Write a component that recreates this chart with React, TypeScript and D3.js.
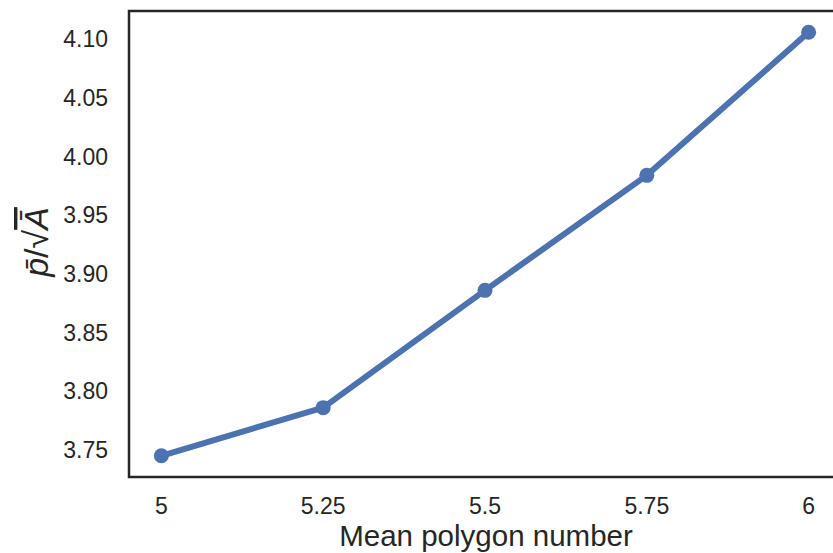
import React from "react";
import * as d3 from "d3";

const xValues = [5, 5.25, 5.5, 5.75, 6];
const yValues = [3.745, 3.786, 3.886, 3.984, 4.106];
const xTicks = [5, 5.25, 5.5, 5.75, 6];
const xTickLabels = ["5", "5.25", "5.5", "5.75", "6"];
const yTicks = [3.75, 3.8, 3.85, 3.9, 3.95, 4.0, 4.05, 4.1];

const W = 833;
const H = 553;
const left = 129;
const top = 11;
const right = 841;
const bottom = 477;

export default function App() {
  const x = d3.scaleLinear().domain([4.95, 6.05]).range([left, right]);
  const yMin = 3.745 - 0.0181;
  const yMax = 4.106 + 0.0181;
  const y = d3.scaleLinear().domain([yMin, yMax]).range([bottom, top]);
  const line = d3
    .line<number>()
    .x((_, i) => x(xValues[i]))
    .y((d) => y(d));
  const font = "Arimo, 'Liberation Sans', Arial, sans-serif";
  const textColor = "#262626";
  return (
    <svg
      width={W}
      height={H}
      style={{ position: "absolute", left: 0, top: 0, background: "#fff" }}
      fontFamily={font}
    >
      <rect x={0} y={0} width={W} height={H} fill="#fff" />
      {yTicks.map((t) => (
        <text
          key={t}
          x={108}
          y={y(t)}
          textAnchor="end"
          dominantBaseline="central"
          fontSize={23}
          fill={textColor}
        >
          {t.toFixed(2)}
        </text>
      ))}
      {xTicks.map((t, i) => (
        <text
          key={t}
          x={x(t)}
          y={506}
          textAnchor="middle"
          dominantBaseline="central"
          fontSize={23}
          fill={textColor}
        >
          {xTickLabels[i]}
        </text>
      ))}
      <text
        x={486}
        y={546}
        textAnchor="middle"
        fontSize={29.5}
        fill={textColor}
      >
        Mean polygon number
      </text>
      <g transform="translate(48,242) rotate(-90)">
        <text textAnchor="middle" fontSize={34} fill={textColor}>
          <tspan fontStyle="italic">p̄</tspan>
          <tspan>/</tspan>
          <tspan fontFamily="'DejaVu Sans', sans-serif" fontWeight={200}>√</tspan>
          <tspan fontStyle="italic" style={{ textDecoration: "overline" }}>
            Ā
          </tspan>
        </text>
      </g>
      <path
        d={line(yValues) || ""}
        fill="none"
        stroke="#4c72b0"
        strokeWidth={6}
        strokeLinejoin="round"
      />
      {yValues.map((v, i) => (
        <circle key={i} cx={x(xValues[i])} cy={y(v)} r={7.5} fill="#4c72b0" />
      ))}
      <rect
        x={left}
        y={top}
        width={right - left}
        height={bottom - top}
        fill="none"
        stroke="#262626"
        strokeWidth={2.5}
      />
    </svg>
  );
}
